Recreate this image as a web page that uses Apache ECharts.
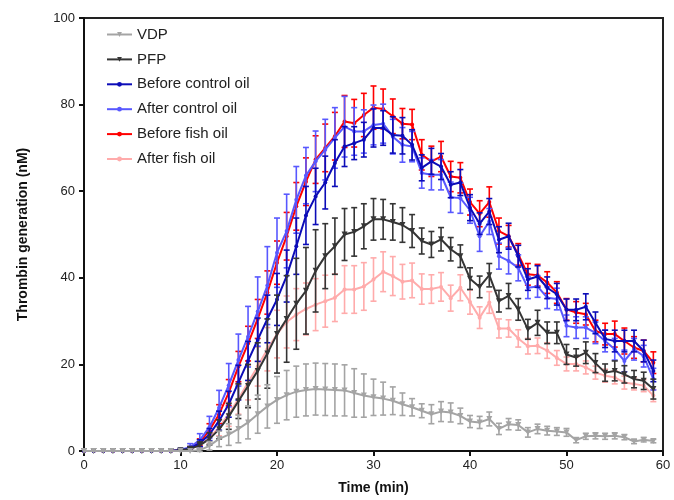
<!DOCTYPE html>
<html>
<head>
<meta charset="utf-8">
<script src="https://cdn.jsdelivr.net/npm/echarts@6/dist/echarts.min.js"></script>
<style>html,body{margin:0;padding:0;background:#fff}#c{width:674px;height:500px}</style>
</head>
<body>
<div id="c"></div>
<script>
const minutes = [0,1,2,3,4,5,6,7,8,9,10,11,12,13,14,15,16,17,18,19,20,21,22,23,24,25,26,27,28,29,30,31,32,33,34,35,36,37,38,39,40,41,42,43,44,45,46,47,48,49,50,51,52,53,54,55,56,57,58,59];

const vdpMean = [0,0,0,0,0,0,0,0,0,0, 0,0,0.2,1.2,2.8,3.8,5.1,6.6,8.5,10.3, 11.8,12.9,13.7,14.1,14.3,14.2,14.1,14.0,13.4,12.8, 12.4,12.1,11.6,10.8,10.1,9.3,8.5,9.1,8.9,8.1, 6.8,6.6,7.4,5.1,6.2,6.0,4.3,5.1,4.7,4.5, 4.3,2.5,3.4,3.5,3.4,3.5,3.2,2.2,2.6,2.3];
const vdpSem = [0,0,0,0,0,0,0,0,0,0, 0,0,0.3,1.0,1.8,2.5,3.2,3.8,4.4,5.0, 5.4,5.7,5.9,6.0,6.0,6.0,6.0,5.9,5.6,5.0, 4.2,3.8,3.2,2.6,2.0,1.6,2.2,2.3,2.2,1.8, 1.4,1.4,1.6,1.3,1.3,1.2,1.1,1.1,1.0,0.9, 0.9,0.6,0.7,0.7,0.7,0.7,0.6,0.5,0.5,0.4];

const pfpMean = [0,0,0,0,0,0,0,0,0,0, 0.2,0.5,1.3,2.8,5.0,8.0,11.5,15.0,18.5,22.5, 27.0,30.5,34.0,37.0,41.6,45.0,47.3,50.0,50.6,51.9, 53.5,53.5,52.9,52.2,50.8,48.5,47.7,48.9,46.6,45.0, 39.8,37.9,40.6,34.6,35.8,32.7,28.1,29.6,27.3,27.3, 22.3,21.6,22.7,20.3,18.1,18.5,17.7,16.6,16.2,14.3];
const pfpSem = [0,0,0,0,0,0,0,0,0,0, 0.2,0.4,0.8,1.4,2.2,3.0,4.0,5.0,6.5,8.0, 9.0,10.0,10.5,10.0,9.5,7.5,6.5,6.0,5.6,5.2, 4.8,4.6,4.2,4.0,3.8,3.0,3.0,2.7,2.7,2.6, 2.5,2.5,2.7,2.5,2.9,2.5,2.3,2.9,2.5,2.5, 2.3,2.0,2.5,2.2,2.0,2.3,2.0,2.0,2.0,2.3];

const beforeControlMean = [0,0,0,0,0,0,0,0,0,0, 0.2,0.6,1.8,3.8,7.0,10.8,15.8,20.8,25.7,30.5, 35.0,40.4,47.3,54.4,58.8,62.0,66.5,70.3,71.1,71.9, 74.6,74.6,73.0,72.8,70.7,65.4,66.9,65.7,61.5,62.0, 56.2,52.5,55.3,48.8,49.6,45.0,39.6,40.3,37.7,36.2, 32.6,32.6,33.3,29.6,25.9,25.4,25.4,25.4,23.1,18.5];
const beforeControlSem = [0,0,0,0,0,0,0,0,0,0, 0.2,0.4,0.8,1.4,2.2,3.0,4.0,4.5,5.0,5.5, 6.0,6.0,6.5,6.7,6.5,6.1,5.4,4.6,3.8,4.0, 4.4,4.0,4.2,4.2,3.5,3.0,3.0,3.0,3.0,3.0, 3.0,2.5,3.0,3.0,3.0,2.5,2.5,2.5,2.5,2.5, 2.5,2.5,3.0,2.5,2.0,2.5,2.5,2.5,2.5,2.5];

const afterControlMean = [0,0,0,0,0,0,0,0,0,0, 0.3,0.9,2.5,5.5,10.0,15.2,21.0,26.4,32.2,38.2, 45.8,50.8,58.0,63.6,66.9,69.6,72.3,74.9,73.8,73.8, 75.3,75.6,72.6,70.7,70.3,64.2,63.8,63.8,58.6,58.4, 55.6,49.6,53.0,45.0,43.9,42.3,37.7,38.0,35.4,35.1, 28.9,28.5,28.5,27.3,25.4,23.5,20.8,23.5,21.9,16.6];
const afterControlSem = [0,0,0,0,0,0,0,0,0,0, 0.3,0.8,1.5,2.5,4.0,5.0,6.0,7.0,8.0,9.0, 8.0,8.5,7.7,6.5,7.0,7.0,7.0,7.0,5.5,5.0, 4.6,4.5,4.0,4.0,3.5,3.5,3.5,3.5,3.5,3.5, 3.0,3.5,3.0,3.0,3.0,3.0,2.5,2.5,2.5,2.5, 2.5,2.5,2.5,2.5,2.5,2.5,2.5,2.5,2.5,2.5];

const beforeFishMean = [0,0,0,0,0,0,0,0,0,0, 0.2,0.6,2.0,4.8,8.5,13.5,19.5,24.8,30.5,36.6, 43.5,49.6,56.5,62.2,67.3,70.0,72.7,76.1,75.7,77.6, 79.3,79.0,77.3,75.6,75.4,68.4,66.9,68.0,63.4,63.1, 57.5,54.8,57.5,50.8,49.6,45.4,40.8,40.6,38.9,36.6, 32.7,32.0,31.6,27.7,27.0,27.0,25.4,23.9,23.1,20.4];
const beforeFishSem = [0,0,0,0,0,0,0,0,0,0, 0.2,0.4,0.8,1.5,2.2,3.0,3.5,4.0,4.5,5.0, 5.0,5.5,5.5,5.5,5.5,5.5,5.5,6.0,5.5,5.0, 5.0,4.6,4.0,3.5,3.5,3.5,3.5,3.5,3.5,3.5, 3.0,3.0,3.5,3.0,2.5,2.5,2.5,2.5,2.5,2.5, 2.5,2.5,2.5,2.5,2.5,3.0,3.0,2.5,2.5,2.5];

const afterFishMean = [0,0,0,0,0,0,0,0,0,0, 0.2,0.5,1.4,3.0,5.5,8.5,12.0,15.8,19.5,23.5, 27.0,29.8,31.5,32.8,33.8,34.6,35.4,37.3,37.3,38.0, 39.6,41.4,40.4,39.1,39.4,37.4,37.4,37.9,35.3,37.7, 34.4,30.8,34.3,28.3,28.3,26.0,24.2,24.3,23.2,21.5, 20.1,20.1,19.3,18.1,17.4,17.0,15.8,15.5,15.1,12.8];
const afterFishSem = [0,0,0,0,0,0,0,0,0,0, 0.2,0.4,0.7,1.3,2.0,2.8,3.5,4.0,4.5,5.0, 5.5,6.0,6.0,6.0,6.0,6.0,5.5,5.5,5.5,5.5, 5.0,4.6,4.5,4.0,4.0,3.5,3.3,3.3,3.0,3.0, 2.8,2.5,2.5,2.2,2.0,2.0,1.8,1.8,1.8,1.7, 1.6,1.6,1.5,1.5,1.5,1.5,1.5,1.4,1.4,1.4];

const seriesDefs = [
  {name:'After fish oil', mean:afterFishMean, sem:afterFishSem, color:'#ffabab', symbol:'circle', size:4, z:2},
  {name:'Before fish oil', mean:beforeFishMean, sem:beforeFishSem, color:'#ff0000', symbol:'circle', size:4, z:3},
  {name:'After control oil', mean:afterControlMean, sem:afterControlSem, color:'#5858ff', symbol:'circle', size:4, z:4},
  {name:'Before control oil', mean:beforeControlMean, sem:beforeControlSem, color:'#0c0cb8', symbol:'circle', size:4, z:5},
  {name:'PFP', mean:pfpMean, sem:pfpSem, color:'#353535', symbol:'triangle', size:6, z:6},
  {name:'VDP', mean:vdpMean, sem:vdpSem, color:'#a4a4a4', symbol:'triangle', size:6, z:7}
];
const legendOrder = ['VDP','PFP','Before control oil','After control oil','Before fish oil','After fish oil'];

const series = [];
seriesDefs.forEach(d => {
  const errData = minutes.map((t,i) => [t, d.mean[i] - d.sem[i], d.mean[i] + d.sem[i], d.sem[i]]);
  series.push({
    name: d.name + ' err',
    type: 'custom',
    z: d.z,
    silent: true,
    encode: {x: 0, y: [1, 2]},
    data: errData,
    renderItem: function (params, api) {
      if (api.value(3) <= 0) return null;
      const x = api.value(0);
      const pLo = api.coord([x, api.value(1)]);
      const pHi = api.coord([x, api.value(2)]);
      const w = 3;
      const st = {stroke: d.color, lineWidth: 1.6};
      return {type:'group', children:[
        {type:'line', shape:{x1:pHi[0], y1:pHi[1], x2:pLo[0], y2:pLo[1]}, style:st},
        {type:'line', shape:{x1:pHi[0]-w, y1:pHi[1], x2:pHi[0]+w, y2:pHi[1]}, style:st},
        {type:'line', shape:{x1:pLo[0]-w, y1:pLo[1], x2:pLo[0]+w, y2:pLo[1]}, style:st}
      ]};
    }
  });
  series.push({
    name: d.name,
    type: 'line',
    z: d.z,
    data: minutes.map((t,i) => [t, d.mean[i]]),
    symbol: d.symbol,
    symbolRotate: d.symbol === 'triangle' ? 180 : 0,
    symbolSize: d.size,
    showAllSymbol: true,
    itemStyle: {color: d.color},
    lineStyle: {color: d.color, width: 2},
    emphasis: {disabled: true}
  });
});

const chart = echarts.init(document.getElementById('c'), null, {renderer:'canvas'});
chart.setOption({
  animation: false,
  backgroundColor: '#fff',
  grid: {left: 84, right: 11, top: 18, bottom: 48, show: true, borderColor: '#222', borderWidth: 2, backgroundColor: 'transparent', containLabel: false},
  legend: {
    data: legendOrder,
    orient: 'vertical',
    left: 101,
    top: 22,
    itemWidth: 25,
    itemHeight: 6,
    itemGap: 9.9,
    textStyle: {fontFamily: 'Liberation Sans, Arial, sans-serif', fontSize: 15, color: '#222'}
  },
  xAxis: {
    type: 'value', min: 0, max: 60, interval: 10,
    name: 'Time (min)', nameLocation: 'middle', nameGap: 30,
    nameTextStyle: {fontFamily: 'Liberation Sans, Arial, sans-serif', fontSize: 14, fontWeight: 'bold', color: '#111'},
    axisLine: {show: true, lineStyle: {color: '#111', width: 2}},
    axisTick: {show: true, length: 5, inside: false, lineStyle: {color: '#111', width: 2}},
    axisLabel: {fontFamily: 'Liberation Sans, Arial, sans-serif', fontSize: 13, color: '#222', margin: 8},
    splitLine: {show: false}
  },
  yAxis: {
    type: 'value', min: 0, max: 100, interval: 20,
    name: 'Thrombin generation (nM)', nameLocation: 'middle', nameGap: 54,
    nameTextStyle: {fontFamily: 'Liberation Sans, Arial, sans-serif', fontSize: 14, fontWeight: 'bold', color: '#111'},
    axisLine: {show: true, lineStyle: {color: '#111', width: 2}},
    axisTick: {show: true, length: 5, inside: false, lineStyle: {color: '#111', width: 2}},
    axisLabel: {fontFamily: 'Liberation Sans, Arial, sans-serif', fontSize: 13, color: '#222', margin: 9},
    splitLine: {show: false}
  },
  series: series
});
</script>
</body>
</html>
